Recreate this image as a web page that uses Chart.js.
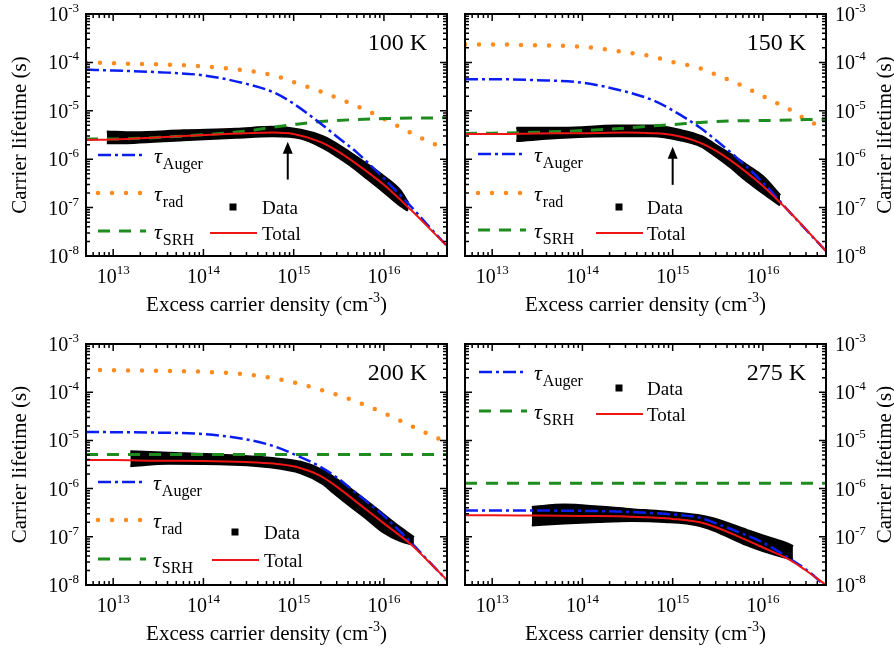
<!DOCTYPE html>
<html>
<head>
<meta charset="utf-8">
<script src="https://cdn.jsdelivr.net/npm/chart.js@4.4.0/dist/chart.umd.min.js"></script>
<style>
    body { margin: 0; background: #fff; }
    #wrap { position: relative; width: 894px; height: 650px; background: #fff; }
    #wrap canvas { position: absolute; }
</style>
</head>
<body>
<div id="wrap">
    <canvas id="p100" width="450" height="320" style="left:0;top:0"></canvas>
    <canvas id="p150" width="444" height="320" style="left:450px;top:0"></canvas>
    <canvas id="p200" width="450" height="330" style="left:0;top:320px"></canvas>
    <canvas id="p275" width="444" height="330" style="left:450px;top:320px"></canvas>
</div>
<script>
// axis ranges and ticks
const xMin = 5e12, xMax = 5e16;
const yMin = 1e-8, yMax = 1e-3;
const xDecades = [1e13, 1e14, 1e15, 1e16];
const yDecades = [1e-8, 1e-7, 1e-6, 1e-5, 1e-4, 1e-3];

// excess carrier density where the model curves are read (cm^-3)
const densityGrid = [5e12, 1e13, 3e13, 1e14, 3e14, 6e14, 1e15, 2e15, 3e15, 5e15, 1e16, 2e16, 3e16, 5e16];

// 100 K
const auger100 = [7.1e-5, 6.8e-5, 6.3e-5, 5.4e-5, 3.6e-5, 2.4e-5, 1.4e-5, 5.4e-6, 2.95e-6, 1.38e-6, 4.0e-7, 1.05e-7, 4.5e-8, 1.6e-8];
const rad100 = [1.0e-4, 9.6e-5, 9.1e-5, 8.3e-5, 6.8e-5, 5.4e-5, 3.9e-5, 2.5e-5, 1.85e-5, 1.26e-5, 6.8e-6, 3.5e-6, 2.4e-6, 1.6e-6];
const srh100 = [2.6e-6, 2.6e-6, 2.8e-6, 3.2e-6, 3.8e-6, 4.6e-6, 5.2e-6, 6.0e-6, 6.3e-6, 6.6e-6, 6.9e-6, 7.1e-6, 7.1e-6, 7.2e-6];
const total100 = [2.5e-6, 2.55e-6, 2.8e-6, 3.15e-6, 3.45e-6, 3.55e-6, 3.3e-6, 2.25e-6, 1.5e-6, 7.9e-7, 2.95e-7, 8.9e-8, 4.2e-8, 1.6e-8];
const dataN100 = [8.5e12, 1.7e13, 6e13, 2.3e14, 5.8e14, 1.2e15, 2.1e15, 2.8e15, 4.2e15, 6.5e15, 1e16, 1.5e16, 1.85e16];
const dataHigh100 = [3.7e-6, 3.55e-6, 3.9e-6, 4.2e-6, 4.6e-6, 4.0e-6, 2.95e-6, 2.24e-6, 1.38e-6, 7.9e-7, 4.4e-7, 2.3e-7, 1.26e-7];
const dataLow100 = [2.15e-6, 2.2e-6, 2.5e-6, 2.8e-6, 3.0e-6, 2.7e-6, 1.74e-6, 1.26e-6, 7.6e-7, 4.0e-7, 2.1e-7, 1.12e-7, 8.7e-8];

// 150 K
const auger150 = [4.5e-5, 4.5e-5, 4.3e-5, 3.8e-5, 2.5e-5, 1.66e-5, 1.02e-5, 4.5e-6, 2.5e-6, 1.12e-6, 3.3e-7, 7.9e-8, 3.5e-8, 1.26e-8];
const rad150 = [2.35e-4, 2.35e-4, 2.25e-4, 2.1e-4, 1.62e-4, 1.32e-4, 1.02e-4, 7.6e-5, 5.6e-5, 3.8e-5, 2.0e-5, 1.05e-5, 6.6e-6, 4.2e-6];
const srh150 = [3.4e-6, 3.45e-6, 3.6e-6, 3.9e-6, 4.4e-6, 4.9e-6, 5.2e-6, 5.75e-6, 6.0e-6, 6.2e-6, 6.3e-6, 6.45e-6, 6.6e-6, 6.6e-6];
const total150 = [3.3e-6, 3.3e-6, 3.4e-6, 3.45e-6, 3.55e-6, 3.45e-6, 3.15e-6, 2.2e-6, 1.5e-6, 7.9e-7, 2.8e-7, 7.9e-8, 3.55e-8, 1.26e-8];
const dataN150 = [1.85e13, 6.3e13, 2.3e14, 5.9e14, 1.2e15, 2.1e15, 2.8e15, 4.2e15, 6.6e15, 1e16, 1.55e16];
const dataHigh150 = [4.4e-6, 4.4e-6, 4.9e-6, 4.9e-6, 4.0e-6, 2.95e-6, 2.14e-6, 1.32e-6, 7.6e-7, 4.4e-7, 1.8e-7];
const dataLow150 = [2.4e-6, 2.8e-6, 3.0e-6, 3.0e-6, 2.5e-6, 1.82e-6, 1.26e-6, 7.2e-7, 3.6e-7, 2.0e-7, 1.12e-7];

// 200 K
const auger200 = [1.5e-5, 1.48e-5, 1.45e-5, 1.35e-5, 1.05e-5, 7.6e-6, 5.2e-6, 2.8e-6, 1.7e-6, 7.9e-7, 2.7e-7, 7.6e-8, 3.4e-8, 1.26e-8];
const rad200 = [2.9e-4, 2.85e-4, 2.8e-4, 2.65e-4, 2.35e-4, 1.95e-4, 1.6e-4, 1.12e-4, 8.9e-5, 6.3e-5, 3.7e-5, 2.0e-5, 1.4e-5, 9.1e-6];
const srh200 = [5.1e-6, 5.1e-6, 5.1e-6, 5.1e-6, 5.1e-6, 5.1e-6, 5.1e-6, 5.1e-6, 5.1e-6, 5.1e-6, 5.1e-6, 5.1e-6, 5.1e-6, 5.1e-6];
const total200 = [3.9e-6, 3.9e-6, 3.8e-6, 3.75e-6, 3.55e-6, 3.3e-6, 2.9e-6, 1.82e-6, 1.1e-6, 5.25e-7, 1.9e-7, 6.9e-8, 3.3e-8, 1.26e-8];
const dataN200 = [1.55e13, 4.1e13, 1.5e14, 5.4e14, 1.2e15, 2.1e15, 2.75e15, 4.2e15, 6.5e15, 9.8e15, 1.5e16, 2.15e16];
const dataHigh200 = [5.9e-6, 5.5e-6, 5.0e-6, 4.3e-6, 3.55e-6, 2.4e-6, 1.74e-6, 1.0e-6, 5.4e-7, 2.95e-7, 1.58e-7, 9.8e-8];
const dataLow200 = [2.95e-6, 3.3e-6, 3.25e-6, 2.8e-6, 2.1e-6, 1.26e-6, 8.3e-7, 4.4e-7, 2.35e-7, 1.26e-7, 8.3e-8, 6.8e-8];

// 275 K (no radiative curve)
const auger275 = [3.5e-7, 3.5e-7, 3.5e-7, 3.45e-7, 3.3e-7, 3.1e-7, 2.9e-7, 2.5e-7, 1.9e-7, 1.32e-7, 7.6e-8, 3.5e-8, 2.1e-8, 9.3e-9];
const srh275 = [1.29e-6, 1.29e-6, 1.29e-6, 1.29e-6, 1.29e-6, 1.29e-6, 1.29e-6, 1.29e-6, 1.29e-6, 1.29e-6, 1.29e-6, 1.29e-6, 1.29e-6, 1.29e-6];
const total275 = [2.8e-7, 2.8e-7, 2.75e-7, 2.7e-7, 2.65e-7, 2.5e-7, 2.35e-7, 2.0e-7, 1.58e-7, 1.07e-7, 6.0e-8, 3.3e-8, 2.0e-8, 1.0e-8];
const dataN275 = [2.75e13, 6.3e13, 1.5e14, 3.5e14, 8.1e14, 1.9e15, 2.8e15, 6.6e15, 1e16, 2e16, 2.15e16];
const dataHigh275 = [4.1e-7, 4.6e-7, 4.2e-7, 3.7e-7, 3.3e-7, 2.8e-7, 2.4e-7, 1.38e-7, 1.05e-7, 6.8e-8, 6.3e-8];
const dataLow275 = [1.74e-7, 1.9e-7, 2.05e-7, 2.15e-7, 2.05e-7, 1.74e-7, 1.38e-7, 6.8e-8, 5.1e-8, 3.5e-8, 3.4e-8];

// arrows in the 100 K and 150 K panels
const arrowN = [8.6e14, 1e15];
const arrowTip = [2.3e-6, 1.8e-6];
const arrowTail = [3.8e-7, 2.95e-7];

const FONT = '"Liberation Serif", "Times New Roman", serif';

const styles = {
    total: { borderColor: '#f01414', borderWidth: 2 },
    auger: { borderColor: '#0a1ef0', borderWidth: 2.5, borderDash: [13, 4, 3, 4] },
    rad: { borderColor: '#ff8a1e', borderWidth: 4.5, borderDash: [0, 14], borderCapStyle: 'round' },
    srh: { borderColor: '#1e8c1e', borderWidth: 3, borderDash: [12, 9] },
    data: { borderColor: '#000', backgroundColor: '#000', borderWidth: 2.5 }
};

const subText = { auger: 'Auger', rad: 'rad', srh: 'SRH' };

const panels = [
    { id: 'p100', temp: '100 K', side: 'left', auger: auger100, rad: rad100, srh: srh100, total: total100,
      dataN: dataN100, dataHigh: dataHigh100, dataLow: dataLow100, arrow: 0,
      pad: { left: 86, right: 3, top: 14, bottom: 64 },
      legend: { lineX: 12, tauX: 68, rows: [['auger', 141], ['rad', 179], ['srh', 217]],
                markX: 147, dataY: 193, totalX: 124, totalY: 219, textX: 176 } },
    { id: 'p150', temp: '150 K', side: 'right', auger: auger150, rad: rad150, srh: srh150, total: total150,
      dataN: dataN150, dataHigh: dataHigh150, dataLow: dataLow150, arrow: 1,
      pad: { left: 15, right: 68, top: 14, bottom: 64 },
      legend: { lineX: 13, tauX: 69, rows: [['auger', 140], ['rad', 179], ['srh', 216]],
                markX: 154, dataY: 193, totalX: 131, totalY: 219, textX: 182 } },
    { id: 'p200', temp: '200 K', side: 'left', auger: auger200, rad: rad200, srh: srh200, total: total200,
      dataN: dataN200, dataHigh: dataHigh200, dataLow: dataLow200,
      pad: { left: 86, right: 3, top: 24, bottom: 65 },
      legend: { lineX: 12, tauX: 67, rows: [['auger', 138], ['rad', 176], ['srh', 215]],
                markX: 149, dataY: 188, totalX: 126, totalY: 216, textX: 178 } },
    { id: 'p275', temp: '275 K', side: 'right', auger: auger275, srh: srh275, total: total275,
      dataN: dataN275, dataHigh: dataHigh275, dataLow: dataLow275,
      pad: { left: 15, right: 68, top: 24, bottom: 65 },
      legend: { lineX: 14, tauX: 69, rows: [['auger', 28], ['srh', 67]],
                markX: 154, dataY: 44, totalX: 131, totalY: 70, textX: 182 } }
];

function toPoints(xs, ys) {
    return xs.map((x, i) => ({ x: x, y: ys[i] }));
}

// "10" with a raised exponent, y is the baseline of "10"
function drawPower(ctx, exp, x, y, align) {
    ctx.font = '20px ' + FONT;
    const wBase = ctx.measureText('10').width;
    ctx.font = '13px ' + FONT;
    const wExp = ctx.measureText(exp).width;
    const w = wBase + wExp;
    const x0 = align === 'right' ? x - w : align === 'center' ? x - w / 2 : x;
    ctx.textAlign = 'left';
    ctx.textBaseline = 'alphabetic';
    ctx.font = '20px ' + FONT;
    ctx.fillText('10', x0, y);
    ctx.font = '13px ' + FONT;
    ctx.fillText(exp, x0 + wBase, y - 9);
}

function strokeSample(ctx, style, x1, x2, y) {
    ctx.save();
    ctx.strokeStyle = style.borderColor;
    ctx.lineWidth = style.borderWidth;
    ctx.setLineDash(style.borderDash || []);
    ctx.lineCap = style.borderCapStyle || 'butt';
    ctx.beginPath();
    ctx.moveTo(x1, y);
    ctx.lineTo(x2, y);
    ctx.stroke();
    ctx.restore();
}

function makeDecor(panel) {
    return {
        id: 'decor_' + panel.id,
        afterDraw(chart) {
            const ctx = chart.ctx;
            const area = chart.chartArea;
            const xs = chart.scales.x, ys = chart.scales.y;
            ctx.save();
            ctx.fillStyle = '#000';
            ctx.strokeStyle = '#000';

            // inward ticks on all four sides
            ctx.lineWidth = 1.5;
            ctx.beginPath();
            for (let d = 12; d <= 16; d++) {
                for (let k = 1; k <= 9; k++) {
                    const v = k * Math.pow(10, d);
                    if (v < xMin * 0.9999 || v > xMax * 1.0001) continue;
                    const px = xs.getPixelForValue(v);
                    const len = k === 1 ? 7 : 4;
                    ctx.moveTo(px, area.bottom); ctx.lineTo(px, area.bottom - len);
                    ctx.moveTo(px, area.top); ctx.lineTo(px, area.top + len);
                }
            }
            for (let d = -8; d <= -3; d++) {
                for (let k = 1; k <= 9; k++) {
                    const v = k * Math.pow(10, d);
                    if (v > yMax * 1.0001) continue;
                    const py = ys.getPixelForValue(v);
                    const len = k === 1 ? 7 : 4;
                    ctx.moveTo(area.left, py); ctx.lineTo(area.left + len, py);
                    ctx.moveTo(area.right, py); ctx.lineTo(area.right - len, py);
                }
            }
            ctx.stroke();

            // frame
            ctx.lineWidth = 2;
            ctx.strokeRect(area.left, area.top, area.right - area.left, area.bottom - area.top);

            // tick labels
            xDecades.forEach(v => {
                drawPower(ctx, String(Math.round(Math.log10(v))), xs.getPixelForValue(v), area.bottom + 27, 'center');
            });
            yDecades.forEach(v => {
                const py = ys.getPixelForValue(v) + 7;
                const exp = String(Math.round(Math.log10(v)));
                if (panel.side === 'left') drawPower(ctx, exp, area.left - 7, py, 'right');
                else drawPower(ctx, exp, area.right + 9, py, 'left');
            });

            // axis titles
            ctx.save();
            const tx = panel.side === 'left' ? area.left - 66 : area.right + 59;
            ctx.translate(tx, (area.top + area.bottom) / 2);
            ctx.rotate(-Math.PI / 2);
            ctx.font = '21px ' + FONT;
            ctx.textAlign = 'center';
            ctx.textBaseline = 'middle';
            ctx.fillText('Carrier lifetime (s)', 0, 0);
            ctx.restore();

            ctx.textAlign = 'left';
            ctx.textBaseline = 'alphabetic';
            const main = 'Excess carrier density (cm';
            ctx.font = '21px ' + FONT;
            const wMain = ctx.measureText(main).width;
            const wClose = ctx.measureText(')').width;
            ctx.font = '14px ' + FONT;
            const wSup = ctx.measureText('-3').width;
            const x0 = (area.left + area.right) / 2 - (wMain + wSup + wClose) / 2;
            const by = area.bottom + 55;
            ctx.font = '21px ' + FONT;
            ctx.fillText(main, x0, by);
            ctx.fillText(')', x0 + wMain + wSup, by);
            ctx.font = '14px ' + FONT;
            ctx.fillText('-3', x0 + wMain, by - 9);

            // temperature
            ctx.font = '24px ' + FONT;
            ctx.textAlign = 'right';
            ctx.fillText(panel.temp, area.right - 20, area.top + 36);
            ctx.textAlign = 'left';

            // legend
            const lg = panel.legend;
            const L = area.left, T = area.top;
            lg.rows.forEach(([key, ry]) => {
                strokeSample(ctx, styles[key], L + lg.lineX, L + lg.lineX + 48, T + ry);
                ctx.fillStyle = '#000';
                ctx.font = 'italic 22px ' + FONT;
                ctx.fillText('\u03c4', L + lg.tauX, T + ry + 8);
                const wTau = ctx.measureText('\u03c4').width;
                ctx.font = '16px ' + FONT;
                ctx.fillText(subText[key], L + lg.tauX + wTau + 1, T + ry + 14);
            });
            ctx.fillStyle = '#000';
            ctx.fillRect(L + lg.markX - 3.5, T + lg.dataY - 3.5, 7, 7);
            ctx.font = '19px ' + FONT;
            ctx.fillText('Data', L + lg.textX, T + lg.dataY + 6.5);
            strokeSample(ctx, styles.total, L + lg.totalX, L + lg.totalX + 47, T + lg.totalY);
            ctx.fillText('Total', L + lg.textX, T + lg.totalY + 7);

            // arrow
            if (panel.arrow !== undefined) {
                const i = panel.arrow;
                const px = xs.getPixelForValue(arrowN[i]);
                const tipY = ys.getPixelForValue(arrowTip[i]);
                const tailY = ys.getPixelForValue(arrowTail[i]);
                ctx.lineWidth = 2;
                ctx.beginPath();
                ctx.moveTo(px, tailY);
                ctx.lineTo(px, tipY + 10);
                ctx.stroke();
                ctx.beginPath();
                ctx.moveTo(px, tipY);
                ctx.lineTo(px - 5, tipY + 12);
                ctx.lineTo(px + 5, tipY + 12);
                ctx.closePath();
                ctx.fill();
            }
            ctx.restore();
        }
    };
}

panels.forEach(panel => {
    const datasets = [];
    datasets.push(Object.assign({ label: 'Total', data: toPoints(densityGrid, panel.total), order: 0 }, styles.total));
    datasets.push(Object.assign({ label: 'Auger', data: toPoints(densityGrid, panel.auger), order: 1 }, styles.auger));
    datasets.push(Object.assign({ label: 'SRH', data: toPoints(densityGrid, panel.srh), order: 2 }, styles.srh));
    if (panel.rad) {
        datasets.push(Object.assign({ label: 'rad', data: toPoints(densityGrid, panel.rad), order: 3 }, styles.rad));
    }
    // measured data drawn as a filled band between its upper and lower edge
    datasets.push(Object.assign({ label: 'Data', data: toPoints(panel.dataN, panel.dataHigh), fill: '+1', order: 5 }, styles.data));
    datasets.push(Object.assign({ label: 'Data low', data: toPoints(panel.dataN, panel.dataLow), fill: false, order: 6 }, styles.data));

    new Chart(document.getElementById(panel.id), {
        type: 'line',
        data: { datasets: datasets },
        options: {
            responsive: false,
            animation: false,
            layout: { padding: panel.pad },
            elements: {
                point: { radius: 0 },
                line: { cubicInterpolationMode: 'monotone', fill: false, borderJoinStyle: 'round' }
            },
            plugins: { legend: { display: false }, tooltip: { enabled: false } },
            scales: {
                x: { type: 'logarithmic', min: xMin, max: xMax, display: false },
                y: { type: 'logarithmic', min: yMin, max: yMax, display: false }
            }
        },
        plugins: [makeDecor(panel)]
    });
});
</script>
</body>
</html>
